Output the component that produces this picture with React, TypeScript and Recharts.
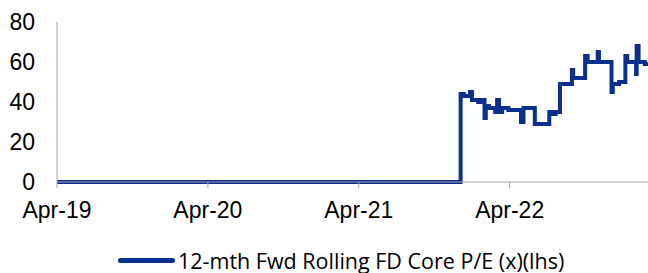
import { LineChart, Line, XAxis, YAxis, Legend } from "recharts";

// months since Apr-19
const months = [
  0, 32.1, 32.35, 32.6, 32.85, 33.0, 33.25, 33.5, 33.75, 34.0, 34.1, 34.35, 34.6, 34.85, 35.0,
  35.15, 35.4, 35.65, 35.9, 36.15, 36.4, 36.65, 36.9, 37.1, 37.35, 37.6, 37.85, 38.0, 38.25,
  38.5, 38.75, 39.0, 39.15, 39.4, 39.65, 39.9, 40.0, 40.25, 40.5, 40.75, 40.95, 41.05, 41.3,
  41.55, 41.8, 42.0, 42.2, 42.5, 42.8, 43.0, 43.1, 43.35, 43.6, 43.85, 44.1, 44.2, 44.45,
  44.7, 44.95, 45.2, 45.35, 45.6, 45.85, 46.05, 46.1, 46.25, 46.5, 46.75, 47.0,
];
const peValues = [
  0, 44, 43, 43, 45, 41, 41, 40, 41, 32, 38, 37, 37, 35, 41,
  35, 37, 37, 36, 36, 36, 36, 30, 37, 37, 37, 37, 29, 29,
  29, 29, 29, 35, 34, 35, 35, 49, 49, 49, 49, 56, 52, 52,
  52, 52, 63, 60, 60, 60, 65, 60, 60, 60, 60, 45, 49, 49,
  50, 50, 63, 60, 60, 60, 54, 68, 60, 60, 59, 59,
];
const tickMonths = [0, 12, 24, 36];
const tickLabels = ["Apr-19", "Apr-20", "Apr-21", "Apr-22"];
const yTicks = [0, 20, 40, 60, 80];
const seriesName = "12-mth Fwd Rolling FD Core P/E (x)(lhs)";

const data = months.map((m, i) => ({ m, pe: peValues[i] }));

const axisFont = { fill: "#000", fontSize: 23, fontFamily: "'Liberation Sans', Arial, sans-serif" };

function LegendBox() {
  return (
    <div style={{ display: "flex", alignItems: "center", height: 26, paddingLeft: 118 }}>
      <div style={{ width: 57, height: 5, background: "#0A2F8F", borderRadius: 3, marginRight: 3 }} />
      <span style={{ fontFamily: "'Open Sans', sans-serif", fontSize: 21.5, color: "#000", whiteSpace: "nowrap" }}>
        {seriesName}
      </span>
    </div>
  );
}

export default function App() {
  return (
    <div style={{ position: "absolute", left: 0, top: 0, background: "#fff" }}>
      <LineChart width={648} height={273} data={data} margin={{ top: 22, right: 0, bottom: 0, left: 0 }}>
        <XAxis
          dataKey="m"
          type="number"
          domain={[0, 47]}
          allowDataOverflow
          ticks={tickMonths}
          tickFormatter={(v: number) => tickLabels[tickMonths.indexOf(v)]}
          stroke="#a6a6a6"
          tickSize={6}
          tickMargin={14}
          height={65}
          tick={axisFont}
        />
        <YAxis
          domain={[0, 80]}
          ticks={yTicks}
          width={57}
          stroke="#a6a6a6"
          tickLine={false}
          tickMargin={16}
          tick={axisFont}
        />
        <Legend
          verticalAlign="bottom"
          height={26}
          wrapperStyle={{ left: 0, width: 648 }}
          content={() => <LegendBox />}
        />
        <Line
          type="stepAfter"
          dataKey="pe"
          name={seriesName}
          stroke="#0A2F8F"
          strokeWidth={4}
          dot={false}
          isAnimationActive={false}
        />
      </LineChart>
    </div>
  );
}
